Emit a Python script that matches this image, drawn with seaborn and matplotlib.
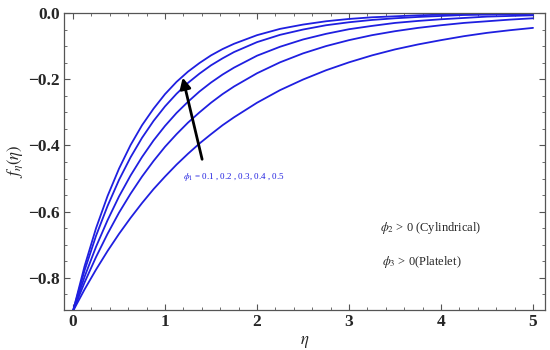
import numpy as np
import pandas as pd
import matplotlib
matplotlib.use("Agg")
import matplotlib.pyplot as plt
import seaborn as sns
from matplotlib.ticker import MultipleLocator

# values (denser sampling where the curves bend most)
eta = [0.0, 0.125, 0.25, 0.375, 0.5, 0.625, 0.75, 0.875, 1.0, 1.125, 1.25, 1.375,
       1.5, 1.625, 1.75, 2.0, 2.25, 2.5, 2.75, 3.0, 3.25, 3.5, 3.75, 4.0, 4.25,
       4.5, 4.75, 5.0]
phi1_values = [0.1, 0.2, 0.3, 0.4, 0.5]
f_01 = [-0.9, -0.765, -0.650, -0.553, -0.470, -0.399, -0.339, -0.289, -0.245, -0.208,
        -0.177, -0.151, -0.128, -0.109, -0.093, -0.067, -0.048, -0.035, -0.025, -0.018,
        -0.013, -0.010, -0.007, -0.005, -0.004, -0.003, -0.002, -0.001]
f_02 = [-0.9, -0.778, -0.673, -0.583, -0.504, -0.436, -0.377, -0.326, -0.282, -0.244,
        -0.211, -0.183, -0.158, -0.137, -0.118, -0.088, -0.066, -0.050, -0.037, -0.028,
        -0.021, -0.016, -0.012, -0.009, -0.006, -0.005, -0.004, -0.003]
f_03 = [-0.9, -0.797, -0.706, -0.626, -0.554, -0.491, -0.435, -0.385, -0.341, -0.302,
        -0.268, -0.237, -0.210, -0.186, -0.165, -0.129, -0.102, -0.080, -0.063, -0.049,
        -0.039, -0.030, -0.024, -0.019, -0.015, -0.011, -0.009, -0.007]
f_04 = [-0.9, -0.814, -0.737, -0.667, -0.603, -0.546, -0.494, -0.447, -0.404, -0.366,
        -0.331, -0.300, -0.271, -0.245, -0.222, -0.182, -0.149, -0.122, -0.100, -0.082,
        -0.067, -0.055, -0.045, -0.037, -0.030, -0.025, -0.020, -0.016]
f_05 = [-0.9, -0.835, -0.775, -0.719, -0.667, -0.619, -0.574, -0.532, -0.494, -0.458,
        -0.425, -0.394, -0.366, -0.339, -0.315, -0.271, -0.233, -0.201, -0.173, -0.149,
        -0.128, -0.110, -0.095, -0.082, -0.070, -0.060, -0.052, -0.045]

# long format for seaborn
frames = []
for phi, vals in zip(phi1_values, [f_01, f_02, f_03, f_04, f_05]):
    frames.append(pd.DataFrame({'eta': eta, 'f': vals, 'phi1': phi}))
df = pd.concat(frames, ignore_index=True)

sns.set_style("ticks")
plt.rcParams['font.family'] = ['Liberation Serif', 'DejaVu Serif']
plt.rcParams['mathtext.fontset'] = 'stix'

fig = plt.figure(figsize=(5.5, 3.5), dpi=100)
ax = fig.add_axes([0.1164, 0.1143, 0.8745, 0.8486])

blue = "#1f1fe0"
sns.lineplot(data=df, x='eta', y='f', hue='phi1', units='phi1', estimator=None,
             palette=[blue] * 5, linewidth=1.3, legend=False, ax=ax)

ax.set_xlim(-0.098, 5.13)
ax.set_ylim(-0.897, 0.0)
ax.xaxis.set_minor_locator(MultipleLocator(0.2))
ax.yaxis.set_minor_locator(MultipleLocator(0.05))
ax.tick_params(which='both', direction='in', top=True, right=True, color='#555555')
ax.tick_params(which='major', length=4, width=0.8, labelsize=12.5, pad=3)
ax.tick_params(which='minor', length=2, width=0.6)
ax.set_yticks([0.0, -0.2, -0.4, -0.6, -0.8])
ax.set_yticklabels(['0.0', '\u22120.2', '\u22120.4', '\u22120.6', '\u22120.8'], fontweight='bold')
ax.set_xticks([0, 1, 2, 3, 4, 5])
ax.set_xticklabels(['0', '1', '2', '3', '4', '5'], fontweight='bold')
for sp in ax.spines.values():
    sp.set_color('#555555')
    sp.set_linewidth(0.9)

ax.set_xlabel(r'$\eta$', fontsize=12, labelpad=3)
ax.set_ylabel(r'$f_\eta(\eta)$', fontsize=12, labelpad=2)

# arrow + annotation
ax.annotate('', xy=(1.185, -0.187), xytext=(1.41, -0.45),
            arrowprops=dict(arrowstyle='-|>', color='black', lw=2.0, mutation_scale=16))
ax.text(1.20, -0.495, r'$\phi_1$ = 0.1 , 0.2 , 0.3, 0.4 , 0.5', color=blue,
        fontsize=6.5, va='center', ha='left')
ax.text(3.34, -0.65, r'$\phi_2$ > 0 (Cylindrical)', fontsize=9, va='center', ha='left')
ax.text(3.36, -0.752, r'$\phi_3$ > 0(Platelet)', fontsize=9, va='center', ha='left')

fig.savefig('out.png', dpi=100)
